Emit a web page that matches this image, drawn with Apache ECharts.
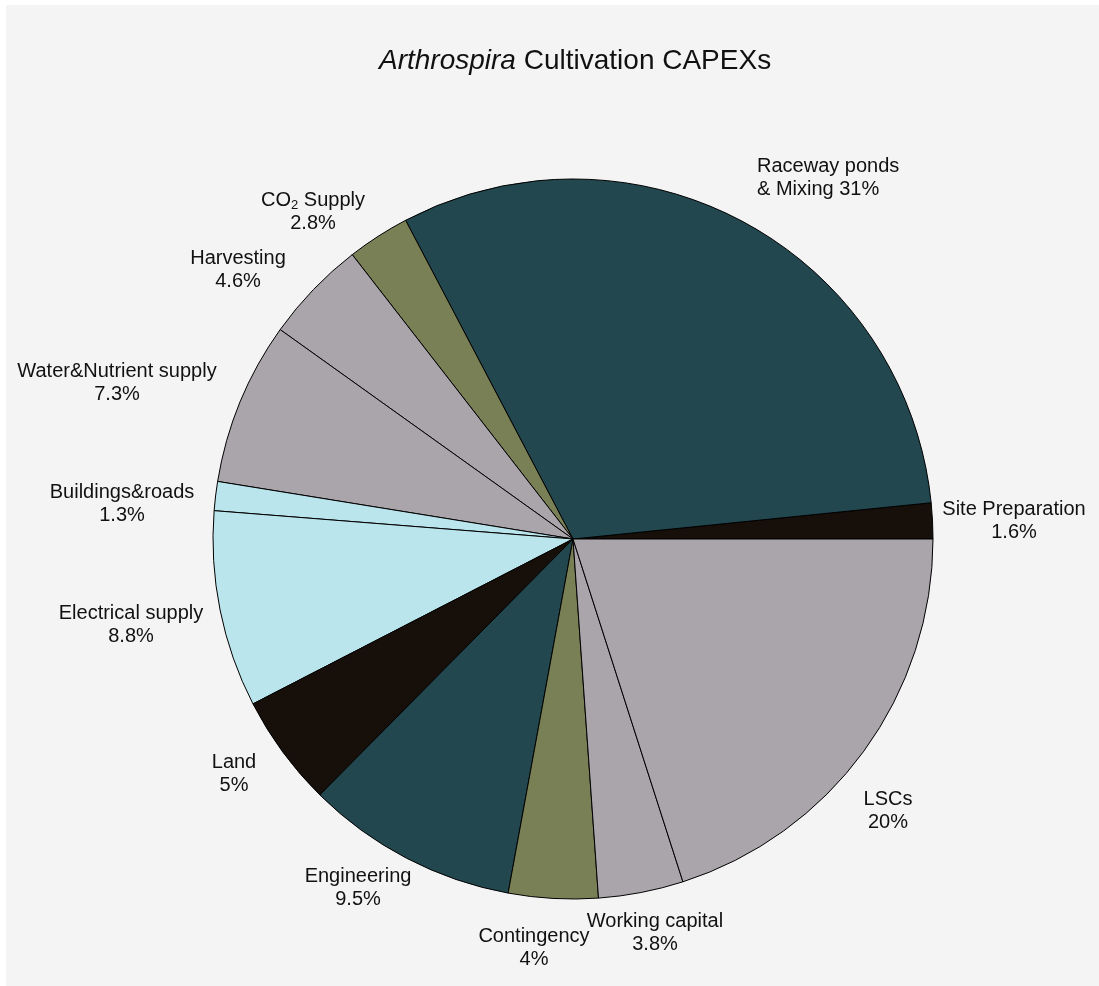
<!DOCTYPE html>
<html>
<head>
<meta charset="utf-8">
<script src="https://cdn.jsdelivr.net/npm/echarts@6/dist/echarts.min.js"></script>
<style>
  html, body { margin: 0; padding: 0; background: #ffffff; }
  #chart { position: absolute; left: 6px; top: 5px; width: 1093px; height: 981px; background: #f4f4f4; }
</style>
</head>
<body>
<div id="chart"></div>
<script>
// slices in drawing order, counter-clockwise from 3 o'clock
var categories = ['Site Preparation', 'Raceway ponds\n& Mixing', 'CO{sub|2} Supply', 'Harvesting',
    'Water&Nutrient supply', 'Buildings&roads', 'Electrical supply', 'Land',
    'Engineering', 'Contingency', 'Working capital', 'LSCs'];
var shares = [1.6, 31, 2.8, 4.6, 7.3, 1.3, 8.8, 5, 9.5, 4, 3.8, 20];
var percentLabels = ['1.6%', '31%', '2.8%', '4.6%', '7.3%', '1.3%', '8.8%', '5%', '9.5%', '4%', '3.8%', '20%'];
var colors = ['#170f0a', '#22474f', '#7a8055', '#aaa4ab', '#aaa4ab', '#bae5ec',
    '#bae5ec', '#170f0a', '#22474f', '#7a8055', '#aaa4ab', '#aaa4ab'];

// label anchor points (chart-div pixels) and alignment
var labelPos = [
    [1008, 516, 'center'], [751, 173, 'left'], [307, 207, 'center'], [232, 265, 'center'],
    [111, 378, 'center'], [116, 499, 'center'], [125, 620, 'center'], [228, 769, 'center'],
    [352, 883, 'center'], [528, 943, 'center'], [649, 928, 'center'], [882, 806, 'center']
];

var chart = echarts.init(document.getElementById('chart'));

var data = categories.map(function (name, i) {
    return {
        name: name,
        value: shares[i],
        itemStyle: { color: colors[i] },
        label: {
            formatter: i === 1 ? name + ' ' + percentLabels[i] : name + '\n' + percentLabels[i],
            align: labelPos[i][2]
        }
    };
});

var option = {
    backgroundColor: '#f4f4f4',
    title: {
        text: '{i|Arthrospira} Cultivation CAPEXs',
        left: 368,
        top: 37,
        textStyle: {
            fontFamily: 'Liberation Sans, Arial, sans-serif',
            fontSize: 28,
            fontWeight: 'normal',
            color: '#111111',
            rich: {
                i: { fontStyle: 'italic', fontSize: 28, fontFamily: 'Liberation Sans, Arial, sans-serif', color: '#111111' }
            }
        }
    },
    series: [{
        type: 'pie',
        center: [567, 534],
        radius: [0, 360],
        startAngle: 0,
        clockwise: false,
        avoidLabelOverlap: false,
        animation: false,
        itemStyle: { borderColor: '#000000', borderWidth: 1 },
        emphasis: { disabled: true },
        label: {
            show: true,
            position: 'outside',
            fontFamily: 'Liberation Sans, Arial, sans-serif',
            fontSize: 20,
            lineHeight: 23,
            color: '#111111',
            rich: {
                sub: { fontSize: 13, verticalAlign: 'bottom', padding: [10, 0, 0, 0], fontFamily: 'Liberation Sans, Arial, sans-serif', color: '#111111' }
            }
        },
        labelLine: { show: false },
        labelLayout: function (params) {
            var p = labelPos[params.dataIndex];
            return { x: p[0], y: p[1], align: p[2], verticalAlign: 'middle' };
        },
        data: data
    }]
};

chart.setOption(option);
</script>
</body>
</html>
